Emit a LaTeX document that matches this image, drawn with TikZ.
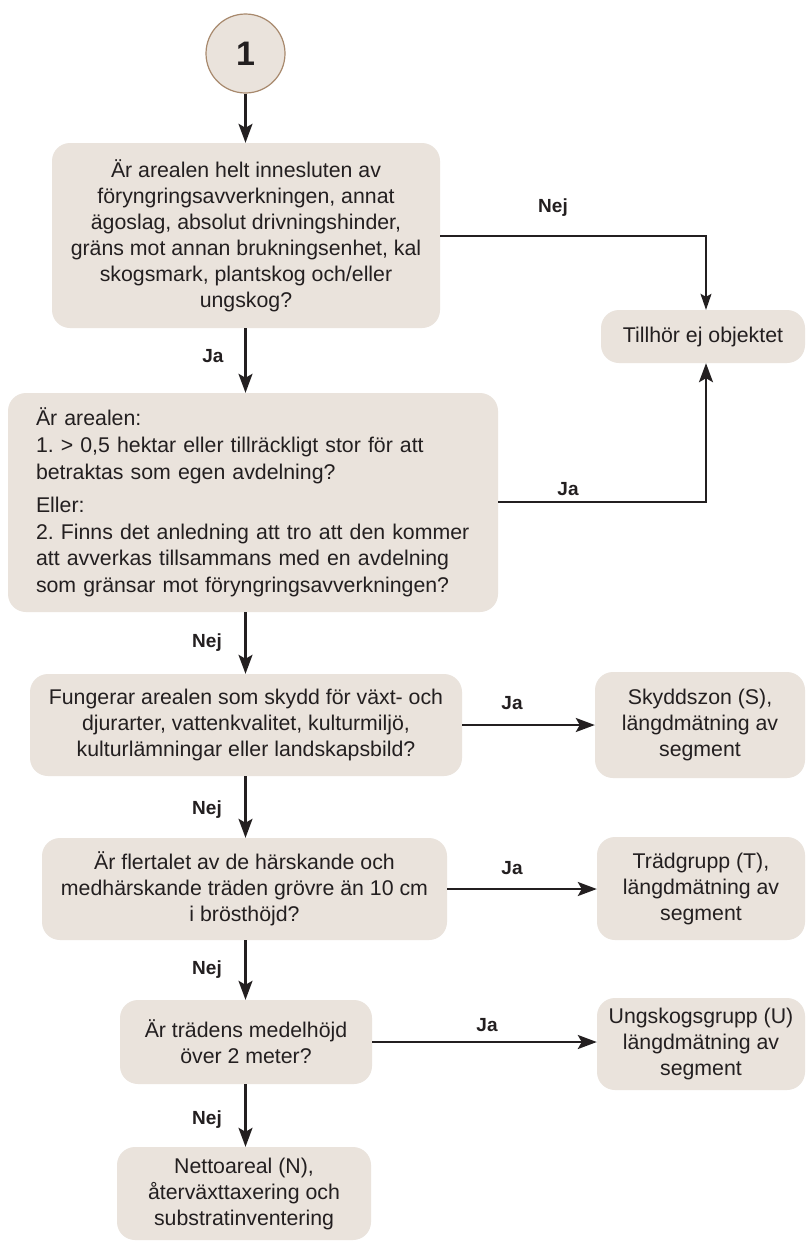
\documentclass[tikz,border=0pt]{standalone}
\usepackage{fontspec}
\setmainfont{Liberation Sans}
\usetikzlibrary{arrows.meta,positioning}
\definecolor{boxfill}{HTML}{EAE3DC}
\definecolor{ringline}{HTML}{A8896D}
\definecolor{ink}{HTML}{231F20}
\frenchspacing
\tikzset{
  x=1pt, y=-1pt,
  every node/.style={text=ink},
  flowbox/.style={draw=none, fill=boxfill, rounded corners=18pt, inner sep=0pt,
    align=center, font=\fontsize{21.3}{26}\selectfont},
  answer/.style={font=\fontsize{19}{22}\selectfont\bfseries, inner sep=0pt},
  flow/.style={draw=ink, line width=2.3pt, -{Stealth[length=19pt,width=14pt,inset=4pt]}},
  thinflow/.style={draw=ink, line width=1.1pt, -{Stealth[length=16pt,width=11pt,inset=3pt]}},
}
\begin{document}
\begin{tikzpicture}
\useasboundingbox[fill=white] (0,0) rectangle (806,1243);

% start marker
\node[circle, fill=boxfill, draw=ringline, line width=1.2pt, minimum size=79pt, inner sep=0pt,
  font=\fontsize{34}{34}\selectfont\bfseries] (start) at (245.5,53.5) {1};

% question and result boxes
\node[flowbox, minimum width=388pt, minimum height=185pt] (q1) at (246,235.5)
  {Är arealen helt innesluten av\\ föryngringsavverkningen, annat\\ ägoslag, absolut drivningshinder,\\ gräns mot annan brukningsenhet, kal\\ skogsmark, plantskog och/eller\\ ungskog?};
\node[flowbox, minimum width=204pt, minimum height=53pt] (notobj) at (703,336.5) {Tillhör ej objektet};

\node[flowbox, align=left, text width=434pt, inner xsep=28pt, minimum height=219pt,
  font=\fontsize{21.3}{26.8}\selectfont] (q2) at (253,502.5)
  {Är arealen:\\ 1. > 0,5 hektar eller tillräckligt stor för att\\ betraktas som egen avdelning?\\[6pt] Eller:\\ 2. Finns det anledning att tro att den kommer\\ att avverkas tillsammans med en avdelning\\ som gränsar mot föryngringsavverkningen?};

\node[flowbox, minimum width=432pt, minimum height=102pt] (q3) at (246,725)
  {Fungerar arealen som skydd för växt- och\\ djurarter, vattenkvalitet, kulturmiljö,\\ kulturlämningar eller landskapsbild?};
\node[flowbox, minimum width=210pt, minimum height=106pt] (zoneS) at (700,725)
  {Skyddszon (S),\\ längdmätning av\\ segment};

\node[flowbox, minimum width=405pt, minimum height=102pt] (q4) at (244.5,889)
  {Är flertalet av de härskande och\\ medhärskande träden grövre än 10 cm\\ i brösthöjd?};
\node[flowbox, minimum width=208pt, minimum height=103pt] (groupT) at (701,888.5)
  {Trädgrupp (T),\\ längdmätning av\\ segment};

\node[flowbox, minimum width=252pt, minimum height=84pt] (q5) at (246,1042)
  {Är trädens medelhöjd\\ över 2 meter?};
\node[flowbox, minimum width=208pt, minimum height=92pt] (groupU) at (701,1044)
  {Ungskogsgrupp (U)\\ längdmätning av\\ segment};

\node[flowbox, minimum width=254pt, minimum height=93pt] (net) at (244,1193.5)
  {Nettoareal (N),\\ återväxttaxering och\\ substratinventering};

% connectors along the main column
\draw[flow] (start.south) -- (start.south |- q1.north);
\draw[flow] (q1.south -| start.south) -- (start.south |- q2.north);
\draw[flow] (q2.south -| start.south) -- (start.south |- q3.north);
\draw[flow] (q3.south -| start.south) -- (start.south |- q4.north);
\draw[flow] (q4.south -| start.south) -- (start.south |- q5.north);
\draw[flow] (q5.south -| start.south) -- (start.south |- net.north);

% connectors to the right-hand column
\coordinate (nejturn) at (706,236);
\coordinate (jaturn) at (706,502);
\draw[thinflow] (q1.east |- nejturn) -- (nejturn) -- (nejturn |- notobj.north);
\draw[flow] (q2.east |- jaturn) -- (jaturn) -- (jaturn |- notobj.south);
\draw[flow] (q3.east) -- (zoneS.west |- q3.east);
\draw[flow] (q4.east) -- (groupT.west |- q4.east);
\draw[flow] (q5.east) -- (groupU.west |- q5.east);

% answer labels
\node[answer] (a1) at (553,208) {Nej};
\node[answer] (a2) at (213,356) {Ja};
\node[answer] (a3) at (568,489) {Ja};
\node[answer] (a4) at (207,643) {Nej};
\node[answer] (a5) at (512,703) {Ja};
\node[answer] (a6) at (207,810) {Nej};
\node[answer] (a7) at (512,868) {Ja};
\node[answer] (a8) at (207,970) {Nej};
\node[answer] (a9) at (487,1025) {Ja};
\node[answer] (a10) at (207,1120) {Nej};
\end{tikzpicture}
\end{document}
